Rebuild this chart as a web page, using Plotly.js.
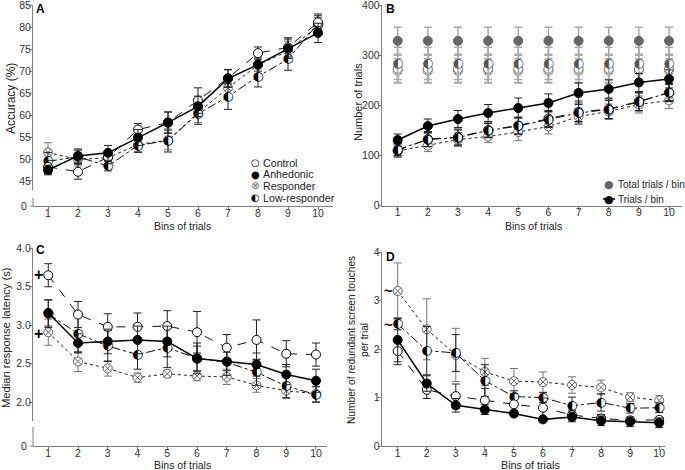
<!DOCTYPE html>
<html><head><meta charset="utf-8">
<script src="https://cdn.plot.ly/plotly-3.0.1.min.js"></script>
<style>html,body{margin:0;padding:0;background:#fff}</style>
</head><body><div id="chart" style="width:685px;height:470px"></div>
<script>
// ---------- DATA ----------
const bins = [1,2,3,4,5,6,7,8,9,10];
const groupNames = ['Control','Anhedonic','Responder','Low-responder'];

// Panel A: accuracy (%)
const accControl      = [48.2,47.1,50.4,56.7,58.3,63.3,68.4,74.1,75.4,81.1];
const accControlErr   = [1.5,1.7,1.5,1.4,2.4,2.9,2.0,1.4,2.2,1.5];
const accAnhedonic    = [47.5,50.7,51.4,54.9,58.3,62.0,68.3,71.5,75.1,78.7];
const accAnhedonicErr = [1.1,1.6,1.7,1.8,2.4,2.3,2.0,1.5,2.2,2.2];
const accResponder    = [51.5,49.9,50.3,53.3,54.3,60.5,66.2,71.4,74.6,80.4];
const accResponderErr = [2.2,1.5,1.4,1.6,2.2,2.2,2.5,2.0,2.2,1.8];
const accLow          = [49.5,50.5,48.4,53.1,54.2,60.3,64.2,68.8,72.7,80.8];
const accLowErr       = [2.0,1.5,1.1,1.6,2.6,2.4,2.9,2.4,2.5,2.2];

// Panel B: number of trials
const totControl      = [273,273,273,273,273,273,273,273,273,273];
const totControlErr   = [27,27,27,27,27,27,27,27,27,27];
const totAnhedonic    = [329,329,329,329,329,329,329,329,329,329];
const totAnhedonicErr = [27,27,27,27,27,27,27,27,27,27];
const totResponder    = [269,269,269,269,269,269,269,269,269,269];
const totResponderErr = [24,24,24,24,24,24,24,24,24,24];
const totLow          = [284,284,284,284,284,284,284,284,284,284];
const totLowErr       = [32,32,32,32,32,32,32,32,32,32];
const trControl       = [110,133,137,151,160,174,187,193,208,226];
const trControlErr    = [13,15,16,14,17,16,22,20,18,16];
const trAnhedonic     = [131,159,173,185,195,205,225,233,246,253];
const trAnhedonicErr  = [12,14,17,17,20,18,20,18,18,18];
const trResponder     = [109,120,132,138,147,158,178,188,202,210];
const trResponderErr  = [10,12,14,12,17,15,16,15,17,16];
const trLow           = [112,132,136,150,159,172,185,192,207,226];
const trLowErr        = [12,14,15,14,16,16,17,18,18,18];

// Panel C: median response latency (s)
const latControl      = [3.65,3.14,2.98,2.98,2.99,2.91,2.71,2.81,2.63,2.62];
const latControlErr   = [0.15,0.17,0.17,0.18,0.20,0.27,0.17,0.26,0.17,0.15];
const latAnhedonic    = [3.16,2.77,2.79,2.81,2.79,2.57,2.53,2.49,2.36,2.28];
const latAnhedonicErr = [0.17,0.12,0.16,0.18,0.20,0.16,0.12,0.15,0.13,0.15];
const latResponder    = [2.91,2.53,2.44,2.32,2.37,2.34,2.33,2.22,2.15,2.11];
const latResponderErr = [0.17,0.13,0.10,0.06,0.05,0.06,0.10,0.09,0.10,0.10];
const latLow          = [3.15,2.89,2.73,2.62,2.71,2.57,2.52,2.39,2.21,2.10];
const latLowErr       = [0.18,0.25,0.20,0.19,0.26,0.20,0.17,0.17,0.15,0.10];

// Panel D: redundant screen touches per trial
const touControl      = [1.96,1.16,1.03,0.94,0.86,0.79,0.64,0.57,0.53,0.54];
const touControlErr   = [0.28,0.18,0.25,0.25,0.22,0.20,0.10,0.08,0.06,0.05];
const touAnhedonic    = [2.19,1.29,0.84,0.75,0.67,0.55,0.60,0.52,0.50,0.48];
const touAnhedonicErr = [0.45,0.16,0.14,0.10,0.06,0.03,0.10,0.10,0.10,0.10];
const touResponder    = [3.20,2.41,1.88,1.53,1.34,1.32,1.26,1.21,1.01,0.94];
const touResponderErr = [0.58,0.63,0.55,0.28,0.26,0.21,0.17,0.15,0.09,0.10];
const touLow          = [2.52,1.97,1.92,1.35,1.02,1.00,0.83,0.90,0.78,0.79];
const touLowErr       = [0.12,0.50,0.38,0.33,0.12,0.10,0.18,0.18,0.10,0.10];

// ---------- HELPERS ----------
const W = 685, H = 470;
const px = v => v / W;
const py = v => 1 - v / H;
const FONT = 'Liberation Sans, Arial, sans-serif';
const GLYPH = 'DejaVu Sans, sans-serif';

const STY = {
  Control:   {symbol:'circle',   fill:'#fff', edge:'#000', dash:'dash',    lw:1,   lc:'#111', ec:'#222'},
  Anhedonic: {symbol:'circle',   fill:'#000', edge:'#000', dash:'solid',   lw:1.5, lc:'#000', ec:'#222'},
  Responder: {symbol:'circle-x', fill:'#fff', edge:'#666', dash:'dot',     lw:1,   lc:'#222', ec:'#777'},
  'Low-responder': {half:true,   fill:'#fff', edge:'#000', dash:'dashdot', lw:1,   lc:'#111', ec:'#222'}
};

function series(name, xa, ya, y, err, opt) {
  opt = opt || {};
  const s = STY[name];
  const withLine = !opt.noLine;
  const edge = opt.edge || s.edge;
  const ec = opt.ec || s.ec;
  const t = {
    type:'scatter', x: bins, y: y, xaxis: xa, yaxis: ya, name: name,
    showlegend:false, hoverinfo:'skip',
    line:{color:s.lc, width:s.lw, dash:s.dash},
    error_y:{type:'data', array: err, visible:true, color: ec, thickness: opt.eth || 1, width: 4}
  };
  if (s.half) {
    t.mode = (withLine ? 'lines+' : '') + 'markers+text';
    t.marker = {symbol:'circle', size:8, color:'#fff', line:{width:0}};
    t.text = y.map(() => '\u25D0');
    t.textposition = 'middle center';
    t.textfont = {family: GLYPH, size: 12.5, color: opt.glyph || '#000'};
  } else {
    t.mode = withLine ? 'lines+markers' : 'markers';
    t.marker = {symbol:s.symbol, size:9, color: opt.fill || s.fill, line:{color:edge, width:1}};
  }
  return t;
}

const traces = [
  // A
  series('Responder','x','y',accResponder,accResponderErr),
  series('Low-responder','x','y',accLow,accLowErr),
  series('Control','x','y',accControl,accControlErr),
  series('Anhedonic','x','y',accAnhedonic,accAnhedonicErr),
  // B totals
  series('Responder','x2','y2',totResponder,totResponderErr,{noLine:true, ec:'#aaa', eth:1.5, edge:'#888'}),
  series('Control','x2','y2',totControl,totControlErr,{noLine:true, ec:'#aaa', eth:1.5, edge:'#777'}),
  series('Low-responder','x2','y2',totLow,totLowErr,{noLine:true, ec:'#aaa', eth:1.5, glyph:'#555'}),
  series('Anhedonic','x2','y2',totAnhedonic,totAnhedonicErr,{noLine:true, ec:'#aaa', eth:1.5, fill:'#666', edge:'#666'}),
  // B trials / bin
  series('Responder','x2','y2',trResponder,trResponderErr),
  series('Control','x2','y2',trControl,trControlErr),
  series('Low-responder','x2','y2',trLow,trLowErr),
  series('Anhedonic','x2','y2',trAnhedonic,trAnhedonicErr),
  // C
  series('Responder','x3','y3',latResponder,latResponderErr),
  series('Low-responder','x3','y3',latLow,latLowErr),
  series('Control','x3','y3',latControl,latControlErr),
  series('Anhedonic','x3','y3',latAnhedonic,latAnhedonicErr),
  // D
  series('Responder','x4','y4',touResponder,touResponderErr),
  series('Low-responder','x4','y4',touLow,touLowErr),
  series('Control','x4','y4',touControl,touControlErr),
  series('Anhedonic','x4','y4',touAnhedonic,touAnhedonicErr)
];

const AXC = '#808080';
const tickFont = {family:FONT, size:10.5, color:'#333'};
const axBase = {
  showgrid:false, zeroline:false, showline:true, linecolor:AXC, linewidth:1,
  ticks:'outside', ticklen:3, tickcolor:AXC, tickwidth:1, ticklabelstandoff:-4,
  ticklabeloverflow:'allow', tickfont:tickFont, fixedrange:true
};
const ax = o => Object.assign({}, axBase, o);

function ann(text, X, Y, o) {
  return Object.assign({
    text: text, xref:'paper', yref:'paper', x: px(X), y: py(Y),
    showarrow:false, xanchor:'center', yanchor:'middle',
    font:{family:FONT, size:12, color:'#222'}
  }, o || {});
}
const f = (size, color) => ({family:FONT, size:size, color:color || '#222'});
const g = (size, color) => ({family:GLYPH, size:size, color:color || '#000'});

const annotations = [
  // panel letters
  ann('<b>A</b>', 40, 9, {font:f(12,'#000')}),
  ann('<b>B</b>', 390, 9, {font:f(12,'#000')}),
  ann('<b>C</b>', 40, 250, {font:f(12,'#000')}),
  ann('<b>D</b>', 390, 257, {font:f(12,'#000')}),
  // axis titles
  ann('Bins of trials', 182, 225.5, {font:f(10.5)}),
  ann('Bins of trials', 533, 225.5, {font:f(10.5)}),
  ann('Bins of trials', 182, 465, {font:f(10.5)}),
  ann('Bins of trials', 530, 465, {font:f(10.8)}),
  ann('Accuracy (%)', 11, 99, {textangle:-90, font:f(12)}),
  ann('Number of trials', 358, 102, {textangle:-90, font:f(11)}),
  ann('Median response latency (s)', 6, 338, {textangle:-90, font:f(11.2)}),
  ann('Number of redundant screen touches<br>per trial', 358, 340, {textangle:-90, font:f(10.2)}),
  // zero labels of the broken axes
  ann('0', 29, 206, {xanchor:'right', font:tickFont}),
  ann('0', 29, 446, {xanchor:'right', font:tickFont}),
  // significance marks
  ann('<b>+</b>', 38, 274, {font:f(16,'#000')}),
  ann('<b>+</b>', 38, 333, {font:f(16,'#000')}),
  ann('<b>~</b>', 388, 290, {font:f(15,'#000')}),
  ann('<b>~</b>', 388, 324, {font:f(15,'#000')}),
  // legend A
  ann('\u25CB', 255, 162.5, {font:g(10)}),
  ann('\u25CF', 255, 174, {font:g(10)}),
  ann('\u2297', 255, 185.5, {font:g(10,'#666')}),
  ann('\u25D0', 255, 197.5, {font:g(10)}),
  ann(groupNames[0], 261, 162.5, {xanchor:'left', font:f(10.7)}),
  ann(groupNames[1], 261, 174, {xanchor:'left', font:f(10.7)}),
  ann(groupNames[2], 261, 185.5, {xanchor:'left', font:f(10.7)}),
  ann(groupNames[3], 261, 197.5, {xanchor:'left', font:f(10.7)}),
  // legend B
  ann('\u25CF', 609, 185, {font:g(11,'#666')}),
  ann('\u25CF', 609, 199, {font:g(11)}),
  ann('Total trials / bin', 616, 185, {xanchor:'left', font:f(10)}),
  ann('Trials / bin', 616, 199, {xanchor:'left', font:f(10)})
];

function seg(x0, y0, x1, y1, color, w) {
  return {type:'line', xref:'paper', yref:'paper', x0:px(x0), x1:px(x1), y0:py(y0), y1:py(y1),
          line:{color:color, width:w}};
}

const layout = {
  width: W, height: H, margin:{l:0,r:0,t:0,b:0},
  paper_bgcolor:'#fff', plot_bgcolor:'rgba(0,0,0,0)',
  showlegend:false,
  xaxis:  ax({domain:[px(33), px(333)], range:[0.5,10.5], anchor:'free', position:py(206), tickvals:bins, ticklabelstandoff:-6}),
  yaxis:  ax({domain:[py(190), py(5)], range:[42.95,85.05], anchor:'x', tickvals:[45,50,55,60,65,70,75,80,85]}),
  xaxis2: ax({domain:[px(381.7), px(682)], range:[0.47,10.43], anchor:'y2', tickvals:bins, ticklabelstandoff:-6}),
  yaxis2: ax({domain:[py(205.7), py(5)], range:[0,400.5], anchor:'x2', tickvals:[0,100,200,300,400]}),
  xaxis3: ax({domain:[px(33), px(327)], range:[0.486,10.37], anchor:'free', position:py(446), tickvals:bins, ticklabelstandoff:-6}),
  yaxis3: ax({domain:[py(421), py(248.3)], range:[1.757,4.0], anchor:'x3', tickvals:[2,2.5,3,3.5,4], tickformat:'.1f'}),
  xaxis4: ax({domain:[px(381.7), px(665)], range:[0.45,10.2], anchor:'y4', tickvals:bins, ticklabelstandoff:-6}),
  yaxis4: ax({domain:[py(446), py(252.3)], range:[0,4], anchor:'x4', tickvals:[0,1,2,3,4]}),
  annotations: annotations,
  shapes: [
    // lower segments of the broken y axes, with their zero ticks
    seg(33, 198, 33, 206, AXC, 1), seg(30, 206, 33, 206, AXC, 1),
    seg(33, 427, 33, 446, AXC, 1), seg(30, 446, 33, 446, AXC, 1),
    // legend B line through marker
    seg(603, 199, 615, 199, '#000', 1.5)
  ]
};

Plotly.newPlot('chart', traces, layout, {staticPlot:true, displayModeBar:false});
</script>
</body></html>
